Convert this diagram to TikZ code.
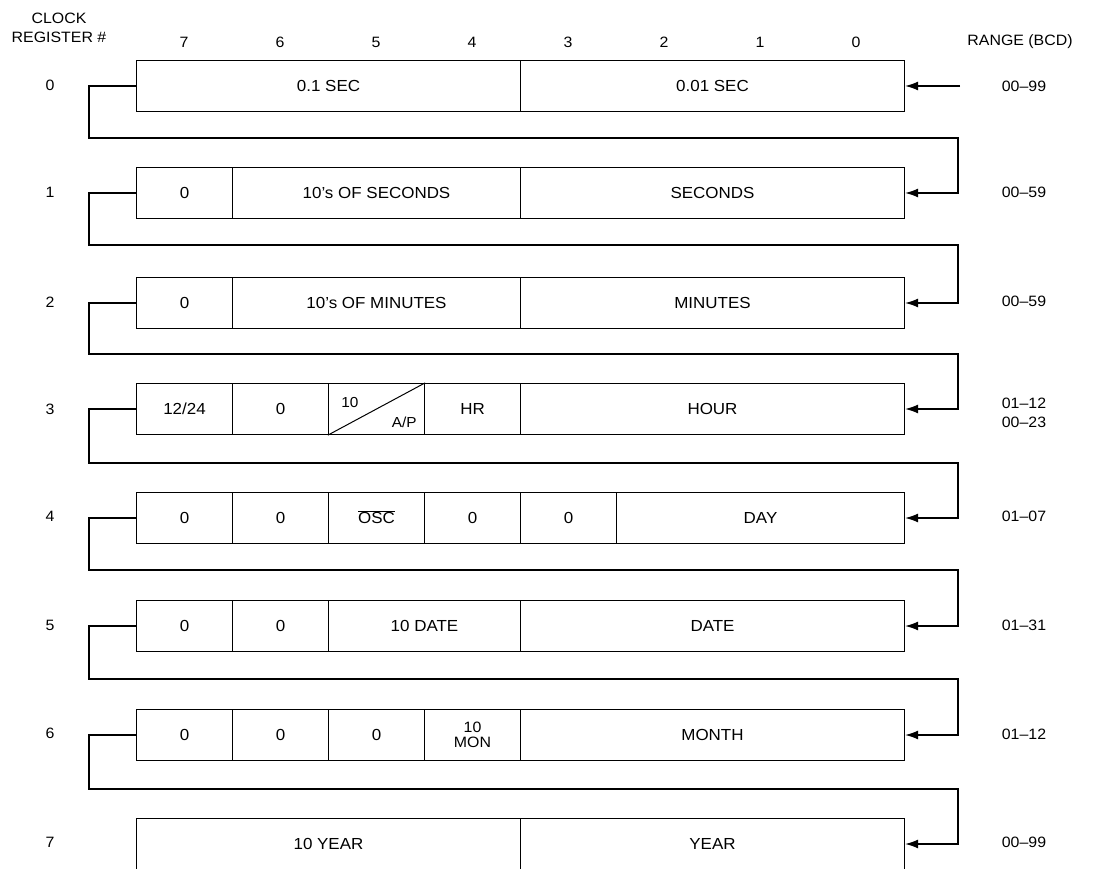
\documentclass[tikz,border=0pt]{standalone}
\usepackage{fontspec}
\setmainfont{Liberation Sans}[FakeStretch=1.06]
\usetikzlibrary{arrows.meta}
\begin{document}
\begin{tikzpicture}[x=1pt,y=-1pt,line width=1.3pt,
  cellbox/.style={draw, minimum height=51pt, inner sep=0pt, align=center, font=\fontsize{16}{17}\selectfont},
  w1/.style={minimum width=96pt},
  w2/.style={minimum width=192pt},
  w3/.style={minimum width=288pt},
  w4/.style={minimum width=384pt},
  lbl/.style={font=\fontsize{15}{19}\selectfont, inner sep=0pt, align=center},
  small/.style={font=\fontsize{14.5}{15}\selectfont, inner sep=0pt},
  arr/.style={line width=1.3pt, -{Latex[length=13pt,width=9pt]}}]
\useasboundingbox (0,0) rectangle (1093,869);
\clip (0,0) rectangle (1093,869);

% headers
\node[lbl] (hdr) at (59,28) {CLOCK\\REGISTER \#};
\node[lbl] (rng) at (1020,42) {RANGE (BCD)};
\node[lbl] (b7) at (184,42) {7};
\node[lbl] (b6) at (280,42) {6};
\node[lbl] (b5) at (376,42) {5};
\node[lbl] (b4) at (472,42) {4};
\node[lbl] (b3) at (568,42) {3};
\node[lbl] (b2) at (664,42) {2};
\node[lbl] (b1) at (760,42) {1};
\node[lbl] (b0) at (856,42) {0};

% row labels
\node[lbl] (n0) at (50,85) {0};
\node[lbl] (n1) at (50,192) {1};
\node[lbl] (n2) at (50,302) {2};
\node[lbl] (n3) at (50,409) {3};
\node[lbl] (n4) at (50,516) {4};
\node[lbl] (n5) at (50,625) {5};
\node[lbl] (n6) at (50,733) {6};
\node[lbl] (n7) at (50,842) {7};

% ranges
\node[lbl] (g0) at (1024,86) {00--99};
\node[lbl] (g1) at (1024,192) {00--59};
\node[lbl] (g2) at (1024,301) {00--59};
\node[lbl] (g3) at (1024,413) {01--12\\00--23};
\node[lbl] (g4) at (1024,516) {01--07};
\node[lbl] (g5) at (1024,625) {01--31};
\node[lbl] (g6) at (1024,734) {01--12};
\node[lbl] (g7) at (1024,842) {00--99};

% row 0
\node[cellbox,w4] (r0a) at (328.5,86) {0.1 SEC};
\node[cellbox,w4] (r0b) at (712.5,86) {0.01 SEC};
% row 1
\node[cellbox,w1] (r1a) at (184.5,193) {0};
\node[cellbox,w3] (r1b) at (376.5,193) {10's OF SECONDS};
\node[cellbox,w4] (r1c) at (712.5,193) {SECONDS};
% row 2
\node[cellbox,w1] (r2a) at (184.5,303) {0};
\node[cellbox,w3] (r2b) at (376.5,303) {10's OF MINUTES};
\node[cellbox,w4] (r2c) at (712.5,303) {MINUTES};
% row 3
\node[cellbox,w1] (r3a) at (184.5,409) {12/24};
\node[cellbox,w1] (r3b) at (280.5,409) {0};
\node[cellbox,w1] (r3c) at (376.5,409) {};
\node[cellbox,w1] (r3d) at (472.5,409) {HR};
\node[cellbox,w4] (r3e) at (712.5,409) {HOUR};
\draw[line width=1pt] (r3c.south west) -- (r3c.north east);
\node[small] (t10) at ([xshift=22pt,yshift=-20pt]r3c.north west) {10};
\node[small] (tap) at ([xshift=-21pt,yshift=13pt]r3c.south east) {A/P};
% row 4
\node[cellbox,w1] (r4a) at (184.5,518) {0};
\node[cellbox,w1] (r4b) at (280.5,518) {0};
\node[cellbox,w1] (r4c) at (376.5,518) {\raisebox{2pt}{$\overline{\mbox{OSC}}$}};
\node[cellbox,w1] (r4d) at (472.5,518) {0};
\node[cellbox,w1] (r4e) at (568.5,518) {0};
\node[cellbox,w3] (r4f) at (760.5,518) {DAY};
% row 5
\node[cellbox,w1] (r5a) at (184.5,626) {0};
\node[cellbox,w1] (r5b) at (280.5,626) {0};
\node[cellbox,w2] (r5c) at (424.5,626) {10 DATE};
\node[cellbox,w4] (r5d) at (712.5,626) {DATE};
% row 6
\node[cellbox,w1] (r6a) at (184.5,735) {0};
\node[cellbox,w1] (r6b) at (280.5,735) {0};
\node[cellbox,w1] (r6c) at (376.5,735) {0};
\node[cellbox,w1,font=\fontsize{15}{15}\selectfont] (r6d) at (472.5,735) {10\\MON};
\node[cellbox,w4] (r6e) at (712.5,735) {MONTH};
% row 7
\node[cellbox,w4] (r7a) at (328.5,844) {10 YEAR};
\node[cellbox,w4] (r7b) at (712.5,844) {YEAR};

% rails
\coordinate (L0) at (89,138); \coordinate (R0) at (958,138);
\coordinate (L1) at (89,245); \coordinate (R1) at (958,245);
\coordinate (L2) at (89,354); \coordinate (R2) at (958,354);
\coordinate (L3) at (89,463); \coordinate (R3) at (958,463);
\coordinate (L4) at (89,570); \coordinate (R4) at (958,570);
\coordinate (L5) at (89,679); \coordinate (R5) at (958,679);
\coordinate (L6) at (89,789); \coordinate (R6) at (958,789);
\coordinate (in0) at (960,86);

\draw[arr] (in0) -- (r0b.east);
\draw[arr] (r0a.west) -| (L0) -- (R0) |- (r1c.east);
\draw[arr] (r1a.west) -| (L1) -- (R1) |- (r2c.east);
\draw[arr] (r2a.west) -| (L2) -- (R2) |- (r3e.east);
\draw[arr] (r3a.west) -| (L3) -- (R3) |- (r4f.east);
\draw[arr] (r4a.west) -| (L4) -- (R4) |- (r5d.east);
\draw[arr] (r5a.west) -| (L5) -- (R5) |- (r6e.east);
\draw[arr] (r6a.west) -| (L6) -- (R6) |- (r7b.east);
\end{tikzpicture}
\end{document}
